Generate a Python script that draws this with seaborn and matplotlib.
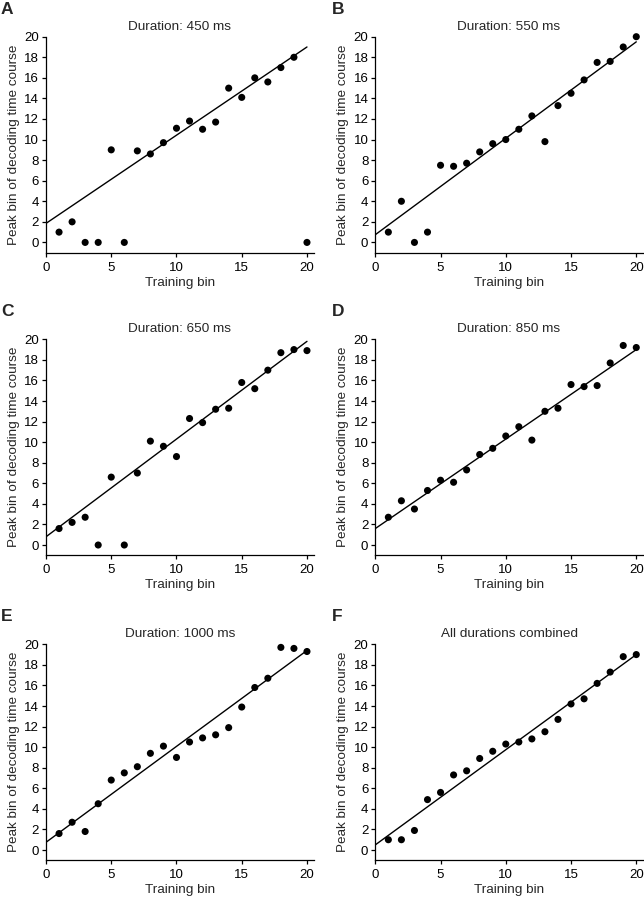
import numpy as np
import pandas as pd
import matplotlib
matplotlib.use("Agg")
import matplotlib.pyplot as plt
import seaborn as sns

sns.set_theme(style="ticks")
plt.rcParams['font.family'] = ['Liberation Sans', 'DejaVu Sans']

training_bin = list(range(1, 21))

peak_450 = [1, 2, 0, 0, 9, 0, 8.9, 8.6, 9.7, 11.1, 11.8, 11.0, 11.7, 15.0, 14.1, 16.0, 15.6, 17.0, 18.0, 0]
peak_550 = [1, 4, 0, 1, 7.5, 7.4, 7.7, 8.8, 9.6, 10.0, 11.0, 12.3, 9.8, 13.3, 14.5, 15.8, 17.5, 17.6, 19.0, 20.0]
peak_650 = [1.6, 2.2, 2.7, 0, 6.6, 0, 7.0, 10.1, 9.6, 8.6, 12.3, 11.9, 13.2, 13.3, 15.8, 15.2, 17.0, 18.7, 19.0, 18.9]
peak_850 = [2.7, 4.3, 3.5, 5.3, 6.3, 6.1, 7.3, 8.8, 9.4, 10.6, 11.5, 10.2, 13.0, 13.3, 15.6, 15.4, 15.5, 17.7, 19.4, 19.2]
peak_1000 = [1.6, 2.7, 1.8, 4.5, 6.8, 7.5, 8.1, 9.4, 10.1, 9.0, 10.5, 10.9, 11.2, 11.9, 13.9, 15.8, 16.7, 19.7, 19.6, 19.3]
peak_all = [1.0, 1.0, 1.9, 4.9, 5.6, 7.3, 7.7, 8.9, 9.6, 10.3, 10.5, 10.8, 11.5, 12.7, 14.2, 14.7, 16.2, 17.3, 18.8, 19.0]

# fitted line values at x=0 and x=20
fit_x = [0, 20]
fit_450 = [1.85, 19.0]
fit_550 = [0.75, 19.5]
fit_650 = [0.8, 19.8]
fit_850 = [1.6, 19.0]
fit_1000 = [0.75, 19.4]
fit_all = [0.5, 19.0]

titles = ["Duration: 450 ms", "Duration: 550 ms", "Duration: 650 ms",
          "Duration: 850 ms", "Duration: 1000 ms", "All durations combined"]
letters = ["A", "B", "C", "D", "E", "F"]
peaks = [peak_450, peak_550, peak_650, peak_850, peak_1000, peak_all]
fits = [fit_450, fit_550, fit_650, fit_850, fit_1000, fit_all]

W, H = 644, 899
fig = plt.figure(figsize=(W / 100, H / 100), dpi=100)

lefts = [46, 375.3]
tops = [36.7, 339.3, 644.3]
ax_w = 267.5
ax_h = 216

for i in range(6):
    r, c = divmod(i, 2)
    l = lefts[c]
    t = tops[r]
    ax = fig.add_axes([l / W, 1 - (t + ax_h) / H, ax_w / W, ax_h / H])
    df = pd.DataFrame({"x": training_bin, "y": peaks[i]})
    sns.lineplot(x=fit_x, y=fits[i], ax=ax, color="black", linewidth=1.0)
    sns.scatterplot(data=df, x="x", y="y", ax=ax, color="black", s=26,
                    edgecolor="none", linewidth=0, clip_on=False, zorder=3)
    ax.set_xlim(0, 20.5)
    ax.set_ylim(-1, 20)
    ax.set_xticks([0, 5, 10, 15, 20])
    ax.set_yticks(list(range(0, 21, 2)))
    ax.spines["top"].set_visible(False)
    ax.spines["right"].set_visible(False)
    for s in ["left", "bottom"]:
        ax.spines[s].set_linewidth(0.9)
        ax.spines[s].set_color("black")
    ax.tick_params(axis="both", direction="out", length=3, width=0.9,
                   labelsize=9.5, colors="black")
    ax.tick_params(axis="x", pad=3.5)
    ax.tick_params(axis="y", pad=2)
    ax.set_xlabel("Training bin", fontsize=9.7, labelpad=2)
    ax.set_ylabel("Peak bin of decoding time course", fontsize=9.7, labelpad=3)
    ax.set_title(titles[i], fontsize=9.7, pad=5)
    fig.text((l - 45) / W if c == 0 else (l - 43) / W, 1 - (t - 35) / H,
             letters[i], fontsize=12.5, fontweight="bold", va="top", ha="left")

fig.savefig("out.png", dpi=100)
